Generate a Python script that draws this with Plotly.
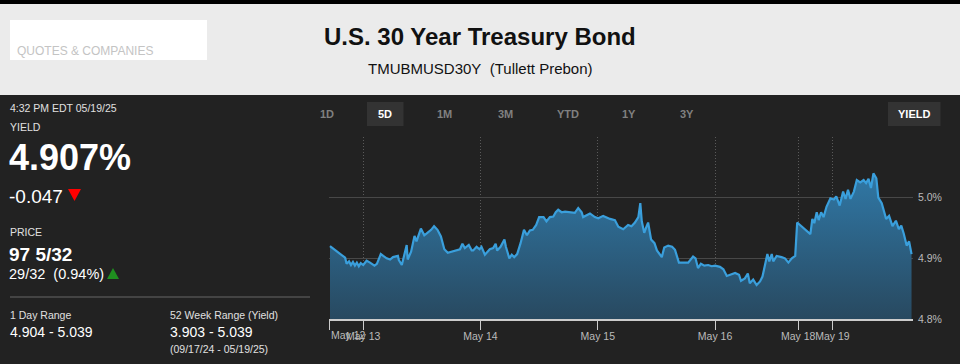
import plotly.graph_objects as go

# ---------------- data ----------------
# x: trading hours along the (weekend-compressed) axis, 0 = start of 5-day window (May 12, 5 PM)
hours = [0.2, 3.3, 3.6, 4.1, 4.5, 4.9, 5.3, 5.7, 6.1, 6.5, 7.0, 7.7, 8.4, 9.3, 9.8, 10.6, 11.1, 11.8,
         12.5, 13.1, 14.1, 14.3, 14.9, 15.6, 15.9, 16.1, 16.8, 17.5, 17.9, 18.8, 19.5, 20.0, 20.9,
         21.5, 22.2, 22.9, 23.6, 24.3, 26.8, 27.3, 27.8, 28.6, 29.2, 29.5, 30.2, 30.8, 31.2, 31.9,
         32.9, 33.6, 34.1, 34.4, 35.1, 35.9, 36.2, 36.9, 37.4, 37.9, 38.5, 39.2, 39.9, 40.5, 41.1,
         41.7, 42.4, 43.0, 43.9, 44.5, 45.2, 45.9, 46.4, 46.9, 47.6, 48.3, 49.3, 50.3, 51.0, 51.7,
         52.0, 53.4, 54.4, 55.1, 56.1, 57.5, 58.5, 59.2, 60.2, 61.2, 61.9, 62.6, 63.3, 63.7, 64.0,
         64.5, 65.0, 65.3, 65.9, 66.6, 67.1, 67.7, 68.1, 68.6, 69.4, 70.2, 70.8, 71.6, 73.5, 74.5,
         75.0, 75.5, 76.1, 76.8, 77.6, 78.3, 79.0, 80.0, 80.7, 81.4, 82.1, 83.1, 83.9, 84.3, 85.1,
         85.7, 86.1, 86.8, 87.5, 88.2, 88.7, 89.2, 89.7, 90.1, 90.6, 90.9, 91.6, 92.6, 93.3, 94.0,
         94.7, 95.4, 95.8, 98.5, 98.9, 99.3, 99.8, 100.2, 100.7, 101.2, 101.8, 102.6, 103.3, 103.8,
         104.5, 105.2, 105.7, 106.2, 106.7, 107.4, 108.0, 108.7, 109.4, 109.9, 110.4, 110.9, 111.4,
         112.0, 112.4, 113.1, 114.0, 114.6, 115.3, 116.0, 116.6, 117.1, 117.6, 118.2, 118.7, 119.2]
yield_pct = [4.920, 4.901, 4.891, 4.895, 4.889, 4.894, 4.888, 4.893, 4.887, 4.892, 4.889, 4.896, 4.893,
             4.888, 4.891, 4.907, 4.904, 4.900, 4.898, 4.902, 4.904, 4.897, 4.889, 4.909, 4.922, 4.898,
             4.911, 4.937, 4.928, 4.949, 4.938, 4.941, 4.947, 4.953, 4.947, 4.936, 4.915, 4.909, 4.915,
             4.924, 4.917, 4.922, 4.913, 4.913, 4.919, 4.915, 4.919, 4.906, 4.915, 4.917, 4.924, 4.913,
             4.919, 4.931, 4.919, 4.900, 4.906, 4.902, 4.907, 4.925, 4.947, 4.938, 4.946, 4.947, 4.955,
             4.968, 4.968, 4.961, 4.968, 4.969, 4.976, 4.980, 4.976, 4.977, 4.976, 4.975, 4.983, 4.976,
             4.968, 4.974, 4.968, 4.966, 4.970, 4.965, 4.963, 4.952, 4.948, 4.955, 4.953, 4.959, 4.968,
             4.991, 4.961, 4.942, 4.953, 4.959, 4.931, 4.925, 4.913, 4.906, 4.902, 4.918, 4.921, 4.919,
             4.914, 4.893, 4.893, 4.903, 4.900, 4.884, 4.891, 4.888, 4.889, 4.887, 4.888, 4.886, 4.882,
             4.871, 4.873, 4.876, 4.873, 4.863, 4.867, 4.875, 4.859, 4.865, 4.856, 4.862, 4.870, 4.886,
             4.907, 4.895, 4.907, 4.895, 4.904, 4.902, 4.900, 4.893, 4.900, 4.904, 4.959, 4.940, 4.965,
             4.958, 4.976, 4.963, 4.976, 4.968, 4.985, 4.999, 4.997, 5.002, 4.987, 5.010, 4.998, 5.013,
             4.998, 5.010, 5.029, 5.025, 5.029, 5.024, 5.031, 5.016, 5.040, 5.032, 5.000, 4.991, 4.965,
             4.970, 4.953, 4.962, 4.948, 4.954, 4.941, 4.921, 4.928, 4.907]

x_tick_hours = [0, 7, 31, 55, 79, 96, 103]
x_tick_labels = ["May 12", "May 13", "May 14", "May 15", "May 16", "May 18", "May 19"]
x_end_hours = 119.5
y_tick_values = [4.8, 4.9, 5.0, 5.1]
y_tick_labels = ["4.8%", "4.9%", "5.0%", ""]

range_buttons = ["1D", "5D", "1M", "3M", "YTD", "1Y", "3Y"]
active_button = "5D"

title_text = "U.S. 30 Year Treasury Bond"
subtitle_text = "TMUBMUSD30Y\u00a0 (Tullett Prebon)"
timestamp_text = "4:32 PM EDT 05/19/25"
yield_value_text = "4.907%"
yield_change_text = "-0.047"
price_text = "97 5/32"
price_change_text = "29/32\u00a0 (0.94%)"
day_range_text = "4.904 - 5.039"
week52_range_text = "3.903 - 5.039"
week52_dates_text = "(09/17/24 - 05/19/25)"

# ---------------- layout helpers ----------------
W, H = 960, 364
L, R, T, B = 329, 913, 137, 319
FONT = "Liberation Sans, Arial, sans-serif"
BG = "#222222"


def fx(px):
    return (px - L) / (R - L)


def fy(py):
    return (B - py) / (B - T)


fig = go.Figure()
fig.add_trace(go.Scatter(
    x=hours, y=yield_pct, mode="lines",
    line=dict(color="#3a9fdc", width=2.2),
    fill="tozeroy",
    fillgradient=dict(type="vertical", start=4.8, stop=5.04,
                      colorscale=[[0, "#284960"], [1, "#3078a6"]]),
    hoverinfo="skip", showlegend=False,
))

shapes = []
annotations = []

# header band
shapes.append(dict(type="rect", xref="paper", yref="paper", x0=fx(0), x1=fx(W), y0=fy(0), y1=fy(95),
                   fillcolor="#ebebeb", line_width=0, layer="above"))
shapes.append(dict(type="rect", xref="paper", yref="paper", x0=fx(0), x1=fx(W), y0=fy(0), y1=fy(4),
                   fillcolor="#000000", line_width=0, layer="above"))
shapes.append(dict(type="rect", xref="paper", yref="paper", x0=fx(10), x1=fx(207), y0=fy(20), y1=fy(60),
                   fillcolor="#ffffff", line_width=0, layer="above"))


def text(t, x, y, size, color, bold=False, anchor="left", family=FONT):
    if bold:
        t = "<b>" + t + "</b>"
    annotations.append(dict(text=t, xref="paper", yref="paper", x=fx(x), y=fy(y),
                            xanchor=anchor, yanchor="middle", showarrow=False,
                            font=dict(family=family, size=size, color=color)))


text("QUOTES &amp; COMPANIES", 15, 51, 12, "#c4c4c4")
text(title_text, 480, 37, 24, "#111111", bold=True, anchor="center")
text(subtitle_text, 480, 68, 15, "#111111", anchor="center")

# left panel
text(timestamp_text, 8, 108.5, 10.5, "#e0e0e0")
text("YIELD", 8, 127, 10.5, "#e0e0e0")
text(yield_value_text, 7, 157, 36, "#ffffff", bold=True)
text(yield_change_text, 7, 196, 19, "#ffffff")
shapes.append(dict(type="path", xref="paper", yref="paper",
                   path="M {} {} L {} {} L {} {} Z".format(fx(68), fy(189), fx(81), fy(189), fx(74.5), fy(201)),
                   fillcolor="#ff0000", line_width=0, layer="above"))
text("PRICE", 8, 232, 10.5, "#e0e0e0")
text(price_text, 7, 254, 19, "#ffffff", bold=True)
text(price_change_text, 7, 273.5, 14.5, "#ffffff")
shapes.append(dict(type="path", xref="paper", yref="paper",
                   path="M {} {} L {} {} L {} {} Z".format(fx(107), fy(279), fx(119), fy(279), fx(113), fy(268)),
                   fillcolor="#1f8f1f", line_width=0, layer="above"))
shapes.append(dict(type="line", xref="paper", yref="paper", x0=fx(10), x1=fx(310), y0=fy(297), y1=fy(297),
                   line=dict(color="#666666", width=1), layer="above"))
text("1 Day Range", 8, 314.5, 10.5, "#e0e0e0")
text(day_range_text, 8, 331.5, 14, "#ffffff")
text("52 Week Range (Yield)", 168, 314.5, 10.5, "#e0e0e0")
text(week52_range_text, 168, 331.5, 14, "#ffffff")
text(week52_dates_text, 168, 349, 10.5, "#e0e0e0")

# range buttons
button_centers = [327, 385, 444.5, 505.7, 567.6, 629, 686.5]
for lab, cx in zip(range_buttons, button_centers):
    if lab == active_button:
        shapes.append(dict(type="rect", xref="paper", yref="paper", x0=fx(367), x1=fx(403.5),
                           y0=fy(102), y1=fy(126), fillcolor="#333333", line_width=0, layer="above"))
        text(lab, cx, 114, 11, "#ffffff", bold=True, anchor="center")
    else:
        text(lab, cx, 114, 11, "#808080", bold=True, anchor="center")
shapes.append(dict(type="rect", xref="paper", yref="paper", x0=fx(888), x1=fx(940.5),
                   y0=fy(102), y1=fy(126), fillcolor="#333333", line_width=0, layer="above"))
text("YIELD", 914, 114, 11, "#ffffff", bold=True, anchor="center")

# first x label is left-aligned at the start of the axis
annotations.append(dict(text=x_tick_labels[0], xref="x", yref="paper", x=x_tick_hours[0], y=fy(334.5),
                        xanchor="left", yanchor="middle", showarrow=False,
                        font=dict(family=FONT, size=10.5, color="#bbbbbb")))

fig.update_layout(
    width=W, height=H,
    margin=dict(l=L, r=W - R, t=T, b=H - B, pad=0),
    paper_bgcolor=BG, plot_bgcolor=BG,
    shapes=shapes, annotations=annotations,
    showlegend=False,
    xaxis=dict(range=[0, x_end_hours], tickvals=x_tick_hours,
               ticktext=[""] + x_tick_labels[1:], tickangle=0, ticklabelstandoff=-2,
               showgrid=True, gridcolor="#5a5a5a", griddash="1px,2px", gridwidth=1,
               showline=True, linecolor="#cccccc", linewidth=1.5,
               ticks="outside", ticklen=9, tickcolor="#cccccc", tickwidth=1,
               tickfont=dict(family=FONT, size=10.5, color="#bbbbbb"),
               zeroline=False, fixedrange=True),
    yaxis=dict(range=[4.8, 5.1], side="right", tickvals=y_tick_values, ticktext=y_tick_labels,
               ticklabelstandoff=4,
               showgrid=True, gridcolor="#484848", gridwidth=1,
               ticks="", showline=False, zeroline=False,
               tickfont=dict(family=FONT, size=10.5, color="#bbbbbb"), fixedrange=True),
)

fig.write_html("out.html", config={"displayModeBar": False},
               post_script="document.body.style.margin='0';document.body.style.padding='0';"
                           "document.body.style.background='#222222';")
